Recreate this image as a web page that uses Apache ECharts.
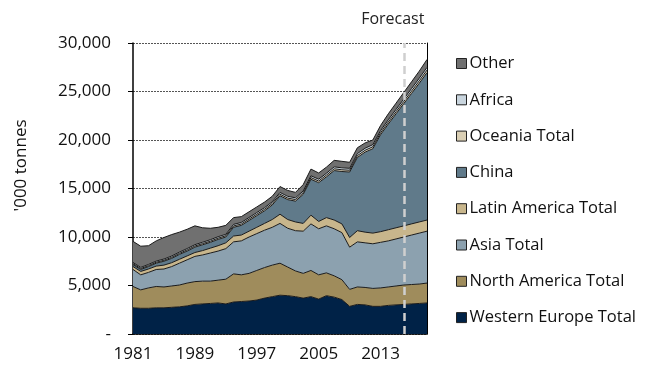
<!DOCTYPE html>
<html>
<head>
<meta charset="utf-8">
<script src="https://cdn.jsdelivr.net/npm/echarts@6/dist/echarts.min.js"></script>
<style>
  html, body { margin: 0; padding: 0; background: #fff; }
  #chart { width: 645px; height: 368px; }
</style>
</head>
<body>
<div id="chart"></div>
<script>
// Years on the category axis
const years = [
  '1981','1982','1983','1984','1985','1986','1987','1988','1989','1990',
  '1991','1992','1993','1994','1995','1996','1997','1998','1999','2000',
  '2001','2002','2003','2004','2005','2006','2007','2008','2009','2010',
  '2011','2012','2013','2014','2015','2016','2017','2018','2019'
];

// Consumption by region, '000 tonnes (stacked bottom to top)
const westernEurope = [2700,2650,2650,2700,2700,2750,2800,2900,3050,3100,3150,3200,3100,3300,3350,3400,3500,3700,3850,4000,3950,3850,3700,3850,3600,3950,3800,3550,2850,3050,3000,2850,2850,2950,3000,3050,3100,3150,3200];
const northAmerica  = [2200,1900,2100,2200,2150,2200,2250,2350,2350,2350,2300,2350,2550,2900,2750,2850,3050,3150,3250,3300,2950,2650,2550,2700,2500,2350,2200,2050,1750,1800,1800,1850,1900,1900,1950,2000,2000,2000,2050];
const asia          = [1750,1550,1600,1750,1850,2000,2250,2400,2600,2700,2900,3000,3150,3300,3500,3750,3800,3850,3900,4100,4000,4150,4350,4800,4750,4850,4850,4850,4350,4650,4600,4600,4700,4750,4850,4950,5100,5250,5350];
const latinAmerica  = [300,350,350,350,400,400,400,400,400,450,500,550,600,600,600,600,650,700,800,950,900,900,800,900,750,850,900,900,1000,1150,1100,1100,1100,1150,1150,1150,1150,1150,1150];
const china         = [200,200,250,300,400,450,500,500,550,600,600,650,600,900,1000,1100,1200,1300,1500,1900,2050,2150,3000,3700,4000,4200,5100,5400,6750,7550,8250,8700,10000,10900,11750,12600,13450,14300,15200];
const oceania       = [100,100,100,100,100,110,110,120,120,120,120,130,130,140,140,150,150,150,160,160,160,160,170,170,170,180,180,180,180,190,190,200,200,210,220,230,240,250,260];
const africa        = [120,120,120,120,130,130,130,140,140,140,150,150,150,160,160,160,170,170,170,180,180,180,180,190,190,190,200,200,200,210,210,220,220,230,240,250,260,270,280];
const other         = [2180,2180,1930,2080,2220,2210,2060,1990,1940,1490,1180,970,920,700,600,590,580,580,570,610,610,560,650,690,640,630,670,670,620,600,550,480,530,610,640,670,700,730,810];

// First forecast year
const forecastStart = '2016';

// Legend order (top to bottom)
const legendOrder = ['Other','Africa','Oceania Total','China','Latin America Total','Asia Total','North America Total','Western Europe Total'];

const FONT = 'Open Sans';

const layers = [
  { name: 'Western Europe Total', data: westernEurope, color: '#002247' },
  { name: 'North America Total',  data: northAmerica,  color: '#9f8c5c' },
  { name: 'Asia Total',           data: asia,          color: '#8ca1af' },
  { name: 'Latin America Total',  data: latinAmerica,  color: '#c8b68c' },
  { name: 'China',                data: china,         color: '#607a8a' },
  { name: 'Oceania Total',        data: oceania,       color: '#dacfb4' },
  { name: 'Africa',               data: africa,        color: '#c9d5de' },
  { name: 'Other',                data: other,         color: '#707070' }
];

const series = layers.map((l, i) => {
  const s = {
    name: l.name,
    type: 'line',
    stack: 'total',
    data: l.data,
    symbol: 'none',
    showSymbol: false,
    smooth: false,
    lineStyle: { color: '#1a1a1a', width: 1 },
    areaStyle: { color: l.color, opacity: 1 },
    itemStyle: { color: l.color, borderColor: '#222', borderWidth: 1 },
    emphasis: { disabled: true },
    z: 2
  };
  if (i === layers.length - 1) {
    s.markLine = {
      silent: true,
      symbol: 'none',
      animation: false,
      lineStyle: { color: '#cfcfcf', type: [8, 5], width: 2.5 },
      label: {
        show: true,
        position: 'end',
        formatter: 'Forecast',
        color: '#222',
        fontFamily: FONT,
        fontSize: 16,
        distance: 16,
        padding: [0, 22, 0, 0]
      },
      data: [{ xAxis: forecastStart }]
    };
  }
  return s;
});

const chart = echarts.init(document.getElementById('chart'), null, { renderer: 'canvas' });
chart.setOption({
  animation: false,
  backgroundColor: '#ffffff',
  grid: { left: 133, right: 218, top: 43, bottom: 34, containLabel: false },
  legend: {
    orient: 'vertical',
    left: 451,
    top: 50,
    itemWidth: 10,
    itemHeight: 10,
    itemGap: 19.3,
    icon: 'rect',
    data: legendOrder,
    selectedMode: false,
    itemStyle: { borderColor: '#222', borderWidth: 1 },
    textStyle: { fontFamily: FONT, fontSize: 16.5, color: '#111', lineHeight: 17, padding: [0, 0, 0, -2] }
  },
  xAxis: {
    type: 'category',
    data: years,
    boundaryGap: false,
    axisLine: { lineStyle: { color: '#000', width: 1.5 } },
    axisTick: { show: false },
    axisLabel: {
      interval: 7,
      margin: 12,
      color: '#111',
      fontFamily: FONT,
      fontSize: 17
    },
    splitLine: { show: false }
  },
  yAxis: [{
    type: 'value',
    min: 0,
    max: 30000,
    interval: 5000,
    name: "'000 tonnes",
    nameLocation: 'middle',
    nameGap: 103,
    nameTextStyle: { fontFamily: FONT, fontSize: 17, color: '#111', padding: [0, 0, 0, 46] },
    axisLine: { show: true, lineStyle: { color: '#000', width: 1.5 } },
    axisTick: { show: true, inside: false, length: 5, lineStyle: { color: '#000' } },
    axisLabel: {
      margin: 22,
      color: '#111',
      fontFamily: FONT,
      fontSize: 17,
      formatter: v => v === 0 ? '-' : v.toLocaleString('en-US')
    },
    splitLine: { show: true, lineStyle: { color: '#555', type: [2, 1], width: 1 } }
  }, {
    type: 'value',
    min: 0,
    max: 30000,
    interval: 5000,
    position: 'right',
    axisLine: { show: true, lineStyle: { color: '#000', width: 1 } },
    axisTick: { show: false },
    axisLabel: { show: false },
    splitLine: { show: false }
  }],
  series: series
});
</script>
</body>
</html>
